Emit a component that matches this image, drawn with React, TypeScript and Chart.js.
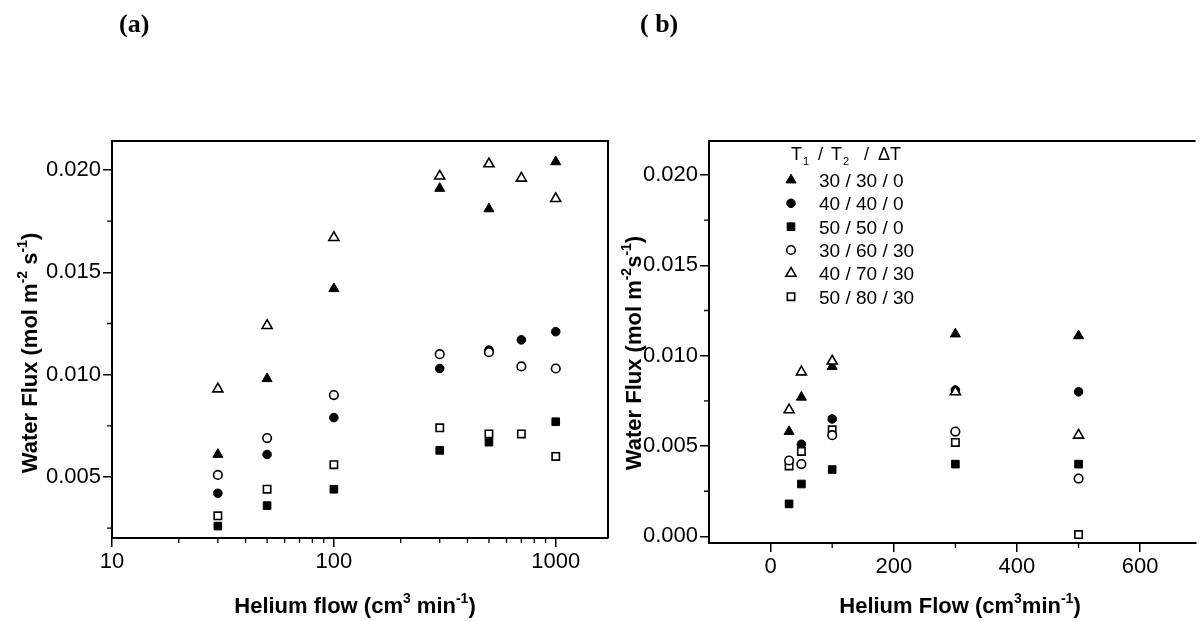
import React, { useEffect, useRef } from 'react';
import { Chart, registerables } from 'chart.js';
import { drawPoint } from 'chart.js/helpers';

Chart.register(...registerables);

// ---------- data ----------
const seriesLabels = ['30 / 30 / 0', '40 / 40 / 0', '50 / 50 / 0', '30 / 60 / 30', '40 / 70 / 30', '50 / 80 / 30'];

// Panel (a): helium flow (log axis)
const flowA = [30, 50, 100, 300, 500, 700, 1000];
const a_30_30_0 = [0.0061, 0.0098, 0.0142, 0.0191, 0.0181, null, 0.0204];
const a_40_40_0 = [0.0042, 0.0061, 0.0079, 0.0103, 0.0112, 0.0117, 0.0121];
const a_50_50_0 = [0.0026, 0.0036, 0.0044, 0.0063, 0.0067, null, 0.0077];
const a_30_60_30 = [0.0051, 0.0069, 0.0090, 0.0110, 0.0111, 0.0104, 0.0103];
const a_40_70_30 = [0.0093, 0.0124, 0.0167, 0.0197, 0.0203, 0.0196, 0.0186];
const a_50_80_30 = [0.0031, 0.0044, 0.0056, 0.0074, 0.0071, 0.0071, 0.0060];

// Panel (b): helium flow (linear axis)
const flowB = [30, 50, 100, 300, 500];
const b_30_30_0 = [0.0058, 0.0077, 0.0094, 0.0112, 0.0111];
const b_40_40_0 = [null, 0.0051, 0.0065, 0.0081, 0.0080];
const b_50_50_0 = [0.0018, 0.0029, 0.0037, 0.0040, 0.0040];
const b_30_60_30 = [0.0042, 0.0040, 0.0056, 0.0058, 0.0032];
const b_40_70_30 = [0.0070, 0.0091, 0.0097, 0.0080, 0.0056];
const b_50_80_30 = [0.0039, 0.0047, 0.0059, 0.0052, 0.0001];

// ticks
const xTicksA = [10, 100, 1000];
const xMinorA = [20, 30, 40, 50, 60, 70, 80, 90, 200, 300, 400, 500, 600, 700, 800, 900];
const yTicksA = [0.005, 0.01, 0.015, 0.02];
const yMinorA = [0.0025, 0.0075, 0.0125, 0.0175];
const xTicksB = [0, 200, 400, 600];
const xMinorB = [100, 300, 500];
const yTicksB = [0, 0.005, 0.01, 0.015, 0.02];
const yMinorB = [0.0025, 0.0075, 0.0125, 0.0175];

// ---------- styling ----------
const H = 621;
const W_A = 620;
const W_B = 583;
const areaA = { left: 112, top: 141, right: 608, bottom: 538 };
const areaB = { left: 89, top: 141, right: 583, bottom: 543 };
const SANS = '"Liberation Sans", Arial, sans-serif';
const SERIF = '"Liberation Serif", "Times New Roman", serif';

const markerDefs = [
  { style: 'triangle', fill: true, r: 5.8 },
  { style: 'circle', fill: true, r: 4.3 },
  { style: 'rect', fill: true, r: 5.4 },
  { style: 'circle', fill: false, r: 4.3 },
  { style: 'triangle', fill: false, r: 5.8 },
  { style: 'rect', fill: false, r: 5.2 },
];

function mkDatasets(xs: number[], list: (number | null)[][]) {
  return list.map((ys, i) => {
    const m = markerDefs[i];
    return {
      label: seriesLabels[i],
      data: xs
        .map((x, j) => (ys[j] == null ? null : { x, y: ys[j] as number }))
        .filter((p) => p !== null),
      pointStyle: m.style,
      pointRadius: m.r,
      pointHoverRadius: m.r,
      backgroundColor: m.fill ? '#000' : '#fff',
      borderColor: '#000',
      borderWidth: m.fill ? 1 : 1.6,
      showLine: false,
      order: m.fill ? 2 : 1,
    };
  });
}

type Part = { t: string; s?: 'sup' | 'sub' };

function drawRich(ctx: CanvasRenderingContext2D, parts: Part[], x: number, y: number, size: number, weight: string, family: string, align: 'center' | 'left') {
  const small = Math.round(size * 0.62);
  const widths = parts.map((p) => {
    ctx.font = `${weight} ${p.s ? small : size}px ${family}`;
    return ctx.measureText(p.t).width;
  });
  const total = widths.reduce((a, b) => a + b, 0);
  let cx = align === 'center' ? x - total / 2 : x;
  ctx.textAlign = 'left';
  ctx.textBaseline = 'alphabetic';
  parts.forEach((p, i) => {
    ctx.font = `${weight} ${p.s ? small : size}px ${family}`;
    const dy = p.s === 'sup' ? -size * 0.45 : p.s === 'sub' ? size * 0.28 : 0;
    ctx.fillText(p.t, cx, y + dy);
    cx += widths[i];
  });
}

function decorPlugin(cfg: {
  id: string;
  xMinor: number[];
  yMinor: number[];
  fullFrame: boolean;
  xTitle: Part[];
  xTitlePos: [number, number];
  yTitle: Part[];
  yTitlePos: [number, number];
  panel: string;
  panelPos: [number, number];
  legend?: { hx: number; mx: number; tx: number; rows: number[]; headerY: number };
}) {
  return {
    id: cfg.id,
    afterDraw(chart: any) {
      const ctx: CanvasRenderingContext2D = chart.ctx;
      const a = chart.chartArea;
      const xs = chart.scales.x;
      const ys = chart.scales.y;
      ctx.save();
      ctx.strokeStyle = '#000';
      ctx.fillStyle = '#000';
      // frame
      ctx.lineWidth = 2;
      ctx.beginPath();
      ctx.moveTo(a.left, a.top);
      ctx.lineTo(a.right + (cfg.fullFrame ? 1 : 0), a.top);
      if (cfg.fullFrame) {
        ctx.moveTo(a.right, a.top);
        ctx.lineTo(a.right, a.bottom);
      }
      ctx.stroke();
      // minor ticks
      ctx.lineWidth = 1.3;
      ctx.beginPath();
      cfg.xMinor.forEach((v) => {
        const px = xs.getPixelForValue(v);
        ctx.moveTo(px, a.bottom);
        ctx.lineTo(px, a.bottom + 5);
      });
      cfg.yMinor.forEach((v) => {
        const py = ys.getPixelForValue(v);
        ctx.moveTo(a.left, py);
        ctx.lineTo(a.left - 5, py);
      });
      ctx.stroke();
      // axis titles
      drawRich(ctx, cfg.xTitle, cfg.xTitlePos[0], cfg.xTitlePos[1], 22, 'bold', SANS, 'center');
      ctx.save();
      ctx.translate(cfg.yTitlePos[0], cfg.yTitlePos[1]);
      ctx.rotate(-Math.PI / 2);
      drawRich(ctx, cfg.yTitle, 0, 0, 22, 'bold', SANS, 'center');
      ctx.restore();
      // panel label
      ctx.font = `bold 26px ${SERIF}`;
      ctx.textAlign = 'left';
      ctx.textBaseline = 'alphabetic';
      ctx.fillText(cfg.panel, cfg.panelPos[0], cfg.panelPos[1]);
      // legend
      if (cfg.legend) {
        const L = cfg.legend;
        const hy = L.headerY;
        const big = `18px ${SANS}`;
        const small = `11px ${SANS}`;
        const pieces: [string, number, string, number][] = [
          ['T', 0, big, 0],
          ['1', 12, small, 5],
          ['/', 27, big, 0],
          ['T', 40, big, 0],
          ['2', 52, small, 5],
          ['/', 73, big, 0],
          ['\u0394T', 87, big, 0],
        ];
        ctx.textAlign = 'left';
        ctx.textBaseline = 'alphabetic';
        pieces.forEach(([t, dx, f, dy]) => {
          ctx.font = f;
          ctx.fillText(t, L.hx + dx, hy + dy);
        });
        L.rows.forEach((ry, i) => {
          const m = markerDefs[i];
          ctx.fillStyle = m.fill ? '#000' : '#fff';
          ctx.strokeStyle = '#000';
          ctx.lineWidth = m.fill ? 1 : 1.6;
          drawPoint(ctx, { pointStyle: m.style as any, radius: m.r, rotation: 0, borderWidth: m.fill ? 1 : 1.6 }, L.mx, ry);
          ctx.fillStyle = '#000';
          ctx.font = `19px ${SANS}`;
          ctx.textAlign = 'left';
          ctx.textBaseline = 'alphabetic';
          ctx.fillText(seriesLabels[i], L.tx, ry + 7);
        });
      }
      ctx.restore();
    },
  };
}

function axisCommon(ticksFmt: (v: number) => string) {
  return {
    ticks: {
      callback: (v: any) => ticksFmt(Number(v)),
      color: '#000',
      font: { family: SANS, size: 22 },
      padding: 2,
      maxRotation: 0,
      autoSkip: false,
    },
    grid: { drawOnChartArea: false, drawTicks: true, tickLength: 9, color: '#000', lineWidth: 1.5 },
    border: { display: true, color: '#000', width: 2 },
  };
}

export default function App() {
  const refA = useRef<HTMLCanvasElement>(null);
  const refB = useRef<HTMLCanvasElement>(null);

  useEffect(() => {
    const chartA = new Chart(refA.current!, {
      type: 'scatter',
      data: {
        datasets: mkDatasets(flowA, [a_30_30_0, a_40_40_0, a_50_50_0, a_30_60_30, a_40_70_30, a_50_80_30]) as any,
      },
      options: {
        responsive: false,
        animation: false,
        events: [],
        layout: { padding: { top: areaA.top, right: W_A - areaA.right, left: 0, bottom: 0 } },
        plugins: { legend: { display: false }, tooltip: { enabled: false } },
        scales: {
          x: {
            type: 'logarithmic',
            min: 10,
            max: 1720,
            ...axisCommon((v) => String(v)),
            afterBuildTicks: (s: any) => {
              s.ticks = xTicksA.map((v) => ({ value: v }));
            },
            afterFit: (s: any) => {
              s.height = H - areaA.bottom;
            },
          },
          y: {
            type: 'linear',
            min: 0.002017,
            max: 0.021418,
            ...axisCommon((v) => v.toFixed(3)),
            afterBuildTicks: (s: any) => {
              s.ticks = yTicksA.map((v) => ({ value: v }));
            },
            afterFit: (s: any) => {
              s.width = areaA.left;
            },
          },
        } as any,
      },
      plugins: [
        decorPlugin({
          id: 'decorA',
          xMinor: xMinorA,
          yMinor: yMinorA,
          fullFrame: true,
          xTitle: [{ t: 'Helium flow (cm' }, { t: '3', s: 'sup' }, { t: ' min' }, { t: '-1', s: 'sup' }, { t: ')' }],
          xTitlePos: [355, 613],
          yTitle: [{ t: 'Water Flux (mol m' }, { t: '-2', s: 'sup' }, { t: ' s' }, { t: '-1', s: 'sup' }, { t: ')' }],
          yTitlePos: [37, 353],
          panel: '(a)',
          panelPos: [119, 32],
        }),
      ],
    });

    const chartB = new Chart(refB.current!, {
      type: 'scatter',
      data: {
        datasets: mkDatasets(flowB, [b_30_30_0, b_40_40_0, b_50_50_0, b_30_60_30, b_40_70_30, b_50_80_30]) as any,
      },
      options: {
        responsive: false,
        animation: false,
        events: [],
        layout: { padding: { top: areaB.top, right: W_B - areaB.right, left: 0, bottom: 0 } },
        plugins: { legend: { display: false }, tooltip: { enabled: false } },
        scales: {
          x: {
            type: 'linear',
            min: -100,
            max: 690,
            ...axisCommon((v) => String(v)),
            afterBuildTicks: (s: any) => {
              s.ticks = xTicksB.map((v) => ({ value: v }));
            },
            afterFit: (s: any) => {
              s.height = H - areaB.bottom;
            },
          },
          y: {
            type: 'linear',
            min: -0.000365,
            max: 0.02188,
            ...axisCommon((v) => v.toFixed(3)),
            afterBuildTicks: (s: any) => {
              s.ticks = yTicksB.map((v) => ({ value: v }));
            },
            afterFit: (s: any) => {
              s.width = areaB.left;
            },
          },
        } as any,
      },
      plugins: [
        decorPlugin({
          id: 'decorB',
          xMinor: xMinorB,
          yMinor: yMinorB,
          fullFrame: false,
          xTitle: [{ t: 'Helium Flow (cm' }, { t: '3', s: 'sup' }, { t: 'min' }, { t: '-1', s: 'sup' }, { t: ')' }],
          xTitlePos: [340, 613],
          yTitle: [{ t: 'Water Flux (mol m' }, { t: '-2', s: 'sup' }, { t: 's' }, { t: '-1', s: 'sup' }, { t: ')' }],
          yTitlePos: [21, 353],
          panel: '( b)',
          panelPos: [20, 32],
          legend: { hx: 171, mx: 171, tx: 199, rows: [180, 203.3, 226.7, 250, 273.3, 296.7], headerY: 160 },
        }),
      ],
    });

    return () => {
      chartA.destroy();
      chartB.destroy();
    };
  }, []);

  return (
    <div style={{ position: 'fixed', left: 0, top: 0, width: 1203, height: H, background: '#fff', overflow: 'hidden' }}>
      <canvas ref={refA} width={W_A} height={H} style={{ position: 'absolute', left: 0, top: 0, width: W_A, height: H }} />
      <canvas ref={refB} width={W_B} height={H} style={{ position: 'absolute', left: W_A, top: 0, width: W_B, height: H }} />
    </div>
  );
}
